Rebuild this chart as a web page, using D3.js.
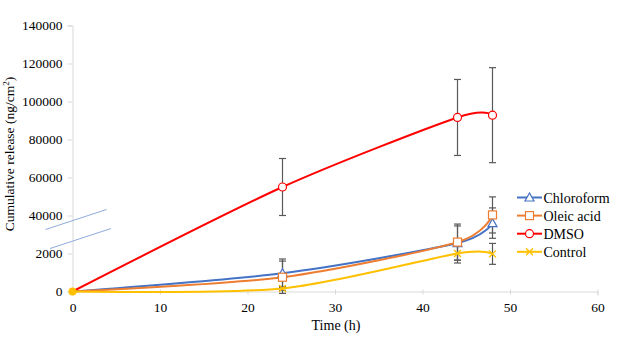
<!DOCTYPE html>
<html><head><meta charset="utf-8">
<script src="https://cdn.jsdelivr.net/npm/d3@7"></script>
</head><body style="margin:0">
<svg id="c" width="623" height="344"></svg>
<script>
const times = [0, 24, 44, 48];
const chloroform = [0, 9600, 25500, 36000];
const chloroformErr = [0, 7500, 9000, 8000];
const oleic = [0, 7500, 26000, 40300];
const oleicErr = [0, 8500, 9500, 9500];
const dmso = [0, 55000, 91600, 92800];
const dmsoErr = [0, 15000, 20000, 25000];
const control = [0, 1600, 20000, 19800];
const controlErr = [0, 1000, 5000, 5500];
const yTicks = [0, 20000, 40000, 60000, 80000, 100000, 120000, 140000];
const yTickLabels = ["0", "2000", "40000", "60000", "80000", "100000", "120000", "140000"];
const xTicks = [0, 10, 20, 30, 40, 50, 60];

const series = [
  {name: "Chloroform", v: chloroform, e: chloroformErr, color: "#4472C4", marker: "tri"},
  {name: "Oleic acid", v: oleic, e: oleicErr, color: "#ED7D31", marker: "sq"},
  {name: "DMSO", v: dmso, e: dmsoErr, color: "#FF0000", marker: "circ"},
  {name: "Control", v: control, e: controlErr, color: "#FFC000", marker: "x"}
];

const svg = d3.select("#c");
svg.append("rect").attr("width", 623).attr("height", 344).attr("fill", "#fff");
const x = d3.scaleLinear().domain([0, 60]).range([72.5, 597.5]);
const y = d3.scaleLinear().domain([0, 140000]).range([291.5, 25.5]);
function serif(sel, size) { return sel.style("font-family", "Liberation Serif").style("font-size", size + "px").attr("fill", "#000"); }

// axes
const gx = svg.append("g").attr("transform", "translate(0,291.5)")
  .call(d3.axisBottom(x).tickValues(xTicks).tickSize(4).tickPadding(7).tickFormat(d3.format("d")));
gx.selectAll(".tick line").attr("y1", -2).attr("y2", 3);
const gy = svg.append("g").attr("transform", "translate(72.5,0)")
  .call(d3.axisLeft(y).tickValues(yTicks).tickSize(5).tickPadding(5).tickFormat((d, i) => yTickLabels[i]));
[gx, gy].forEach(g => {
  g.select(".domain").attr("stroke", "#D9D9D9");
  g.selectAll(".tick line").attr("stroke", "#D9D9D9");
  serif(g.selectAll("text"), 13.5);
});

// axis titles
serif(svg.append("text").attr("x", x(30) + 1).attr("y", 330).attr("text-anchor", "middle"), 14).text("Time (h)");
const yt = serif(svg.append("text").attr("transform", "translate(13.5,154) rotate(-90)").attr("text-anchor", "middle"), 13.5);
yt.append("tspan").text("Cumulative release (ng/cm");
yt.append("tspan").attr("dy", -5).style("font-size", "9px").text("2");
yt.append("tspan").attr("dy", 5).text(")");

// axis break marks
const brk = svg.append("g").attr("stroke", "#8FAADC").attr("stroke-width", 1);
brk.append("line").attr("x1", 45.5).attr("y1", 229.5).attr("x2", 106.5).attr("y2", 209.5);
brk.append("line").attr("x1", 50).attr("y1", 248.5).attr("x2", 111).attr("y2", 228.5);

const line = d3.line().x(d => x(d[0])).y(d => y(d[1])).curve(d3.curveCardinal.tension(0.2));

// error bars
series.forEach(s => {
  const g = svg.append("g").attr("stroke", "#595959").attr("stroke-width", 1.2);
  times.forEach((t, i) => {
    if (!s.e[i]) return;
    const cx = x(t), y1 = y(s.v[i] + s.e[i]), y2 = y(s.v[i] - s.e[i]);
    g.append("line").attr("x1", cx).attr("x2", cx).attr("y1", y1).attr("y2", y2);
    g.append("line").attr("x1", cx - 3.5).attr("x2", cx + 3.5).attr("y1", y1).attr("y2", y1);
    g.append("line").attr("x1", cx - 3.5).attr("x2", cx + 3.5).attr("y1", y2).attr("y2", y2);
  });
});

function drawMarker(g, type, cx, cy, color) {
  if (type === "tri") {
    g.append("path").attr("d", `M${cx},${cy - 4.5}L${cx + 4.5},${cy + 3.5}L${cx - 4.5},${cy + 3.5}Z`)
      .attr("fill", "#fff").attr("stroke", color).attr("stroke-width", 1.2);
  } else if (type === "sq") {
    g.append("rect").attr("x", cx - 4).attr("y", cy - 4).attr("width", 8).attr("height", 8)
      .attr("fill", "#fff").attr("stroke", color).attr("stroke-width", 1.2);
  } else if (type === "circ") {
    g.append("circle").attr("cx", cx).attr("cy", cy).attr("r", 4)
      .attr("fill", "#fff").attr("stroke", color).attr("stroke-width", 1.2);
  } else {
    g.append("path").attr("d", `M${cx - 3.5},${cy - 3.5}L${cx + 3.5},${cy + 3.5}M${cx - 3.5},${cy + 3.5}L${cx + 3.5},${cy - 3.5}`)
      .attr("stroke", color).attr("stroke-width", 1.4).attr("fill", "none");
  }
}

// lines and markers
series.forEach(s => {
  const pts = times.map((t, i) => [t, s.v[i]]);
  svg.append("path").attr("d", line(pts)).attr("fill", "none").attr("stroke", s.color).attr("stroke-width", 2);
});
series.forEach(s => {
  const g = svg.append("g");
  times.forEach((t, i) => { if (i > 0) drawMarker(g, s.marker, x(t), y(s.v[i]), s.color); });
});
svg.append("circle").attr("cx", x(0)).attr("cy", y(0)).attr("r", 4).attr("fill", "#FFC000");

// legend
const lg = svg.append("g");
series.forEach((s, i) => {
  const ly = 197.5 + i * 18.1;
  lg.append("line").attr("x1", 517).attr("x2", 542).attr("y1", ly).attr("y2", ly)
    .attr("stroke", s.color).attr("stroke-width", 2);
  drawMarker(lg, s.marker, 529.5, ly, s.color);
  serif(lg.append("text").attr("x", 543.5).attr("y", ly + 5), 14).text(s.name);
});
</script>
</body></html>
